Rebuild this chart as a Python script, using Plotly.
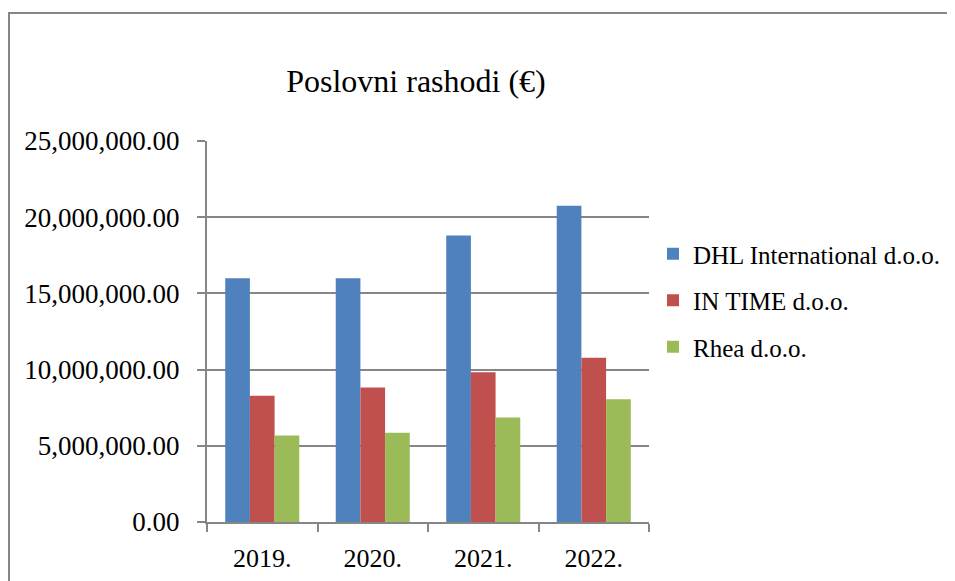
import plotly.graph_objects as go

years = ["2019.", "2020.", "2021.", "2022."]
series_names = ["DHL International d.o.o.", "IN TIME d.o.o.", "Rhea d.o.o."]
dhl = [16000000, 16000000, 18800000, 20750000]
intime = [8280000, 8830000, 9830000, 10770000]
rhea = [5680000, 5850000, 6860000, 8060000]
colors = ["#4F81BD", "#C0504D", "#9BBB59"]
y_ticks = [0, 5000000, 10000000, 15000000, 20000000, 25000000]

OFF = 8  # page body margin
W, H = 955 - OFF, 581 - OFF
# target positions in window pixels, converted to figure pixels
L, R, T, B = 207 - OFF, 649 - OFF, 141 - OFF, 522 - OFF

fig = go.Figure()
for name, vals, col in zip(series_names, [dhl, intime, rhea], colors):
    fig.add_trace(go.Bar(x=years, y=vals, name=name, legendgroup=name,
                         marker=dict(color=col, line=dict(width=0))))

def px_x(px):
    return (px - OFF - L) / (R - L)

def px_y(py):
    return (B - (py - OFF)) / (B - T)

font_family = "Liberation Serif"
axis_col = "#868686"

fig.update_layout(
    width=W, height=H,
    margin=dict(l=L, r=W - R, t=T, b=H - B, pad=0, autoexpand=False),
    paper_bgcolor="white", plot_bgcolor="white",
    barmode="group", bargap=0.33, bargroupgap=0,
    font=dict(family=font_family, size=26, color="black"),
    title=dict(text="Poslovni rashodi (€)", x=px_x(416), xref="paper", xanchor="center",
               y=1 - (81 - OFF) / H, yref="container", yanchor="middle",
               font=dict(family=font_family, size=32, color="black")),
    legend=dict(x=px_x(653), xanchor="left", y=px_y(231), yanchor="top",
                font=dict(family=font_family, size=25, color="black"),
                tracegroupgap=11, bgcolor="rgba(0,0,0,0)", borderwidth=0),
    xaxis=dict(showline=True, linecolor=axis_col, linewidth=2, automargin=False,
               ticks="outside", tickson="boundaries", ticklen=8, tickwidth=2,
               tickcolor=axis_col, showgrid=False, ticklabelstandoff=12,
               tickfont=dict(family=font_family, size=26)),
    yaxis=dict(range=[0, 25000000], tickvals=y_ticks, tickformat=",.2f",
               showline=True, linecolor=axis_col, linewidth=2, automargin=False,
               ticks="outside", ticklen=8, tickwidth=2, tickcolor=axis_col,
               showgrid=True, gridcolor=axis_col, gridwidth=2, zeroline=False,
               ticklabelstandoff=12,
               tickfont=dict(family=font_family, size=27)),
    shapes=[dict(type="rect", xref="paper", yref="paper",
                 x0=px_x(9), x1=px_x(990), y0=px_y(620), y1=px_y(13),
                 line=dict(color=axis_col, width=2), fillcolor="rgba(0,0,0,0)",
                 layer="below")],
)

fig.write_html("out.html")
